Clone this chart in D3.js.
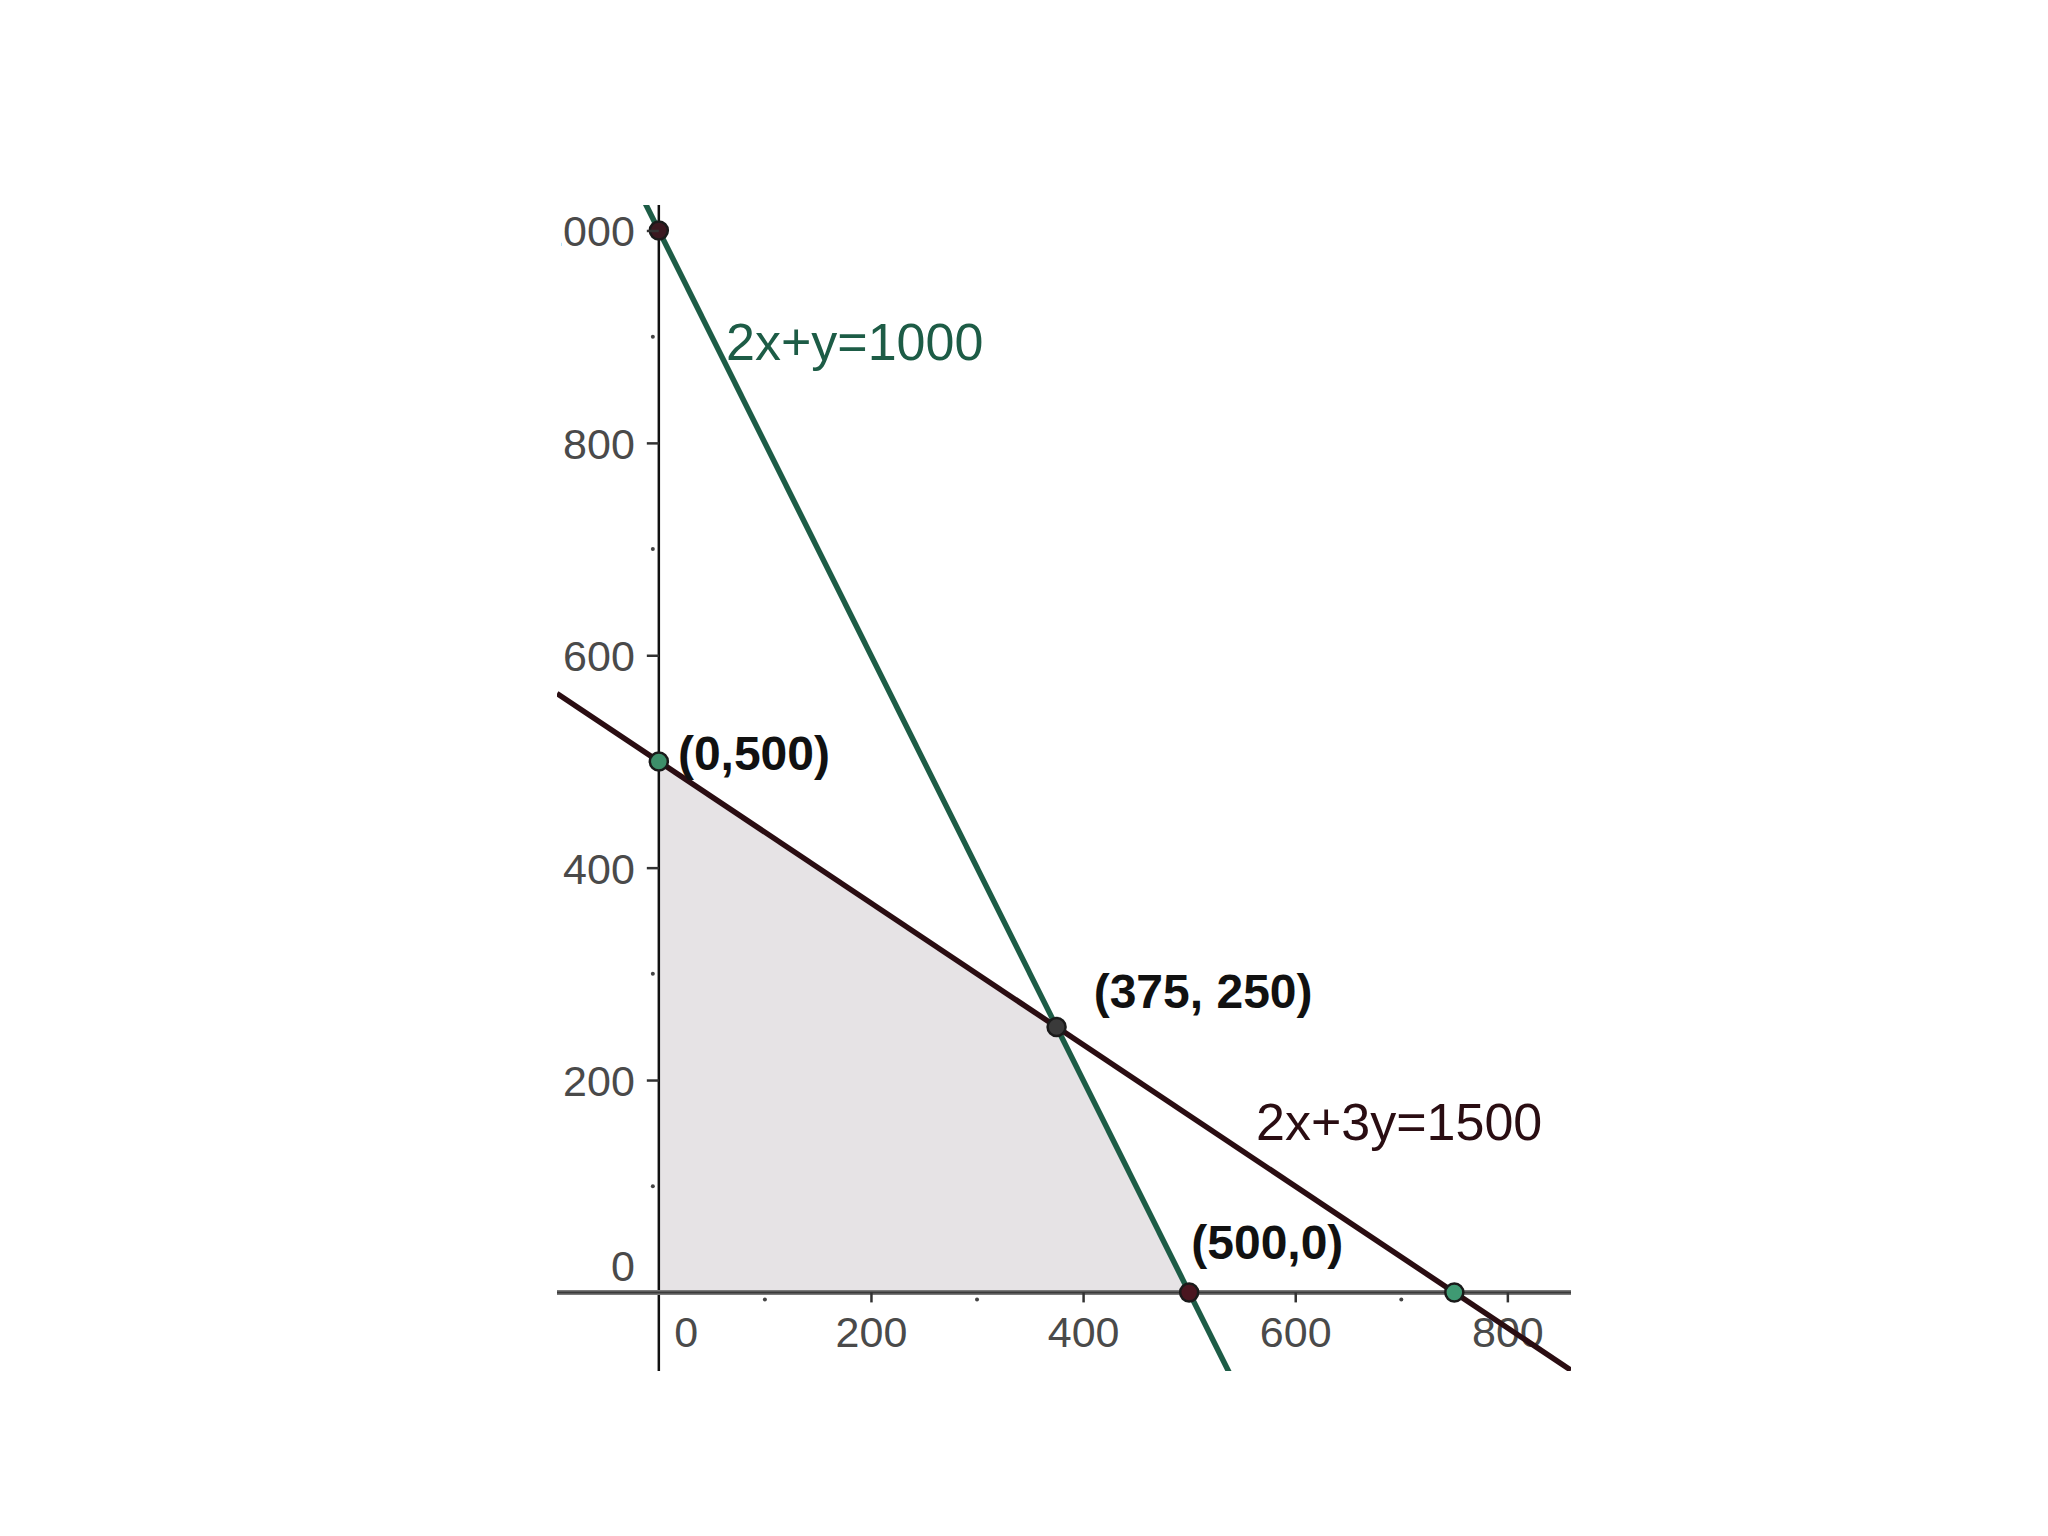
<!DOCTYPE html>
<html>
<head>
<meta charset="utf-8">
<script src="https://cdn.jsdelivr.net/npm/d3@7/dist/d3.min.js"></script>
<style>
  html, body { margin: 0; padding: 0; background: #ffffff; }
  svg { display: block; }
</style>
</head>
<body>
<svg id="chart" width="2048" height="1536"></svg>
<script>
// ---- data ----
const lineLabels = ["2x+y=1000", "2x+3y=1500"];
const lineA = [2, 2];
const lineB = [1, 3];
const lineC = [1000, 1500];
const lineColors = ["#1d5c46", "#2a0d12"];

const feasibleX = [0, 0, 375, 500];
const feasibleY = [0, 500, 250, 0];

const pointX = [0, 0, 375, 500, 750];
const pointY = [1000, 500, 250, 0, 0];
const pointFill = ["#3b1820", "#3d8f6a", "#3a3a3a", "#4a1620", "#3f9a73"];

const pointLabels = ["(0,500)", "(375, 250)", "(500,0)"];
const pointLabelX = [18, 410, 502];
const pointLabelY = [492, 268, 31];

const xTicks = [0, 200, 400, 600, 800];
const xMinor = [100, 300, 500, 700];
const yTicks = [0, 200, 400, 600, 800, 1000];
const yMinor = [100, 300, 500, 700, 900];

// ---- scales ----
const x = d3.scaleLinear().domain([-96, 860]).range([557, 1571]);
const y = d3.scaleLinear().domain([-74, 1024]).range([1371, 205]);

const svg = d3.select("#chart");
const defs = svg.append("defs");
defs.append("clipPath").attr("id", "plot")
  .append("rect")
  .attr("x", x(-96)).attr("y", y(1024))
  .attr("width", x(860) - x(-96)).attr("height", y(-74) - y(1024));
defs.append("clipPath").attr("id", "ylab")
  .append("rect")
  .attr("x", 561).attr("y", y(1024))
  .attr("width", x(860) - 561).attr("height", y(-74) - y(1024));

const g = svg.append("g").attr("clip-path", "url(#plot)");

// feasible region
g.append("path")
  .datum(feasibleX.map((v, i) => [v, feasibleY[i]]))
  .attr("d", d3.line().x(d => x(d[0])).y(d => y(d[1])).curve(d3.curveLinearClosed))
  .attr("fill", "#e6e3e5");

// y axis
const yAxis = d3.axisLeft(y).tickValues(yTicks).tickSize(12).tickPadding(12).tickFormat(d3.format("d"));
const ya = svg.append("g").attr("clip-path", "url(#ylab)")
  .append("g").attr("transform", `translate(${x(0)},0)`).call(yAxis);
ya.select(".domain").remove();
ya.selectAll(".tick line").attr("stroke", "#333").attr("stroke-width", 2.5);
ya.selectAll(".tick text")
  .attr("font-family", "Liberation Sans, Arial, sans-serif")
  .attr("font-size", 43).attr("fill", "#4a4a4a")
  .attr("dy", "0.36em");
ya.selectAll(".tick").filter(d => d === 0).select("line").remove();
ya.selectAll(".tick").filter(d => d === 0).select("text").attr("dy", "-0.28em");

g.selectAll(".yminor").data(yMinor).enter().append("circle")
  .attr("cx", x(0) - 6).attr("cy", d => y(d)).attr("r", 2).attr("fill", "#444");

g.append("line")
  .attr("x1", x(0)).attr("x2", x(0))
  .attr("y1", y(1024)).attr("y2", y(-74))
  .attr("stroke", "#111").attr("stroke-width", 2.5);

// x axis
g.append("line")
  .attr("x1", x(-96)).attr("x2", x(860))
  .attr("y1", y(0)).attr("y2", y(0))
  .attr("stroke", "#7a7a7a").attr("stroke-width", 5);
g.append("line")
  .attr("x1", x(-96)).attr("x2", x(860))
  .attr("y1", y(0)).attr("y2", y(0))
  .attr("stroke", "#3a3a3a").attr("stroke-width", 2);

const xAxis = d3.axisBottom(x).tickValues(xTicks).tickSize(10).tickPadding(14).tickFormat(d3.format("d"));
const xa = g.append("g").attr("transform", `translate(0,${y(0)})`).call(xAxis);
xa.select(".domain").remove();
xa.selectAll(".tick line").attr("stroke", "#333").attr("stroke-width", 2.5);
xa.selectAll(".tick text")
  .attr("font-family", "Liberation Sans, Arial, sans-serif")
  .attr("font-size", 43).attr("fill", "#4a4a4a");
xa.selectAll(".tick").filter(d => d === 0).select("line").remove();
xa.selectAll(".tick").filter(d => d === 0).select("text").attr("dx", 27);

g.selectAll(".xminor").data(xMinor).enter().append("circle")
  .attr("cx", d => x(d)).attr("cy", y(0) + 7).attr("r", 2).attr("fill", "#444");

// constraint lines
const xd = x.domain();
lineA.forEach((a, i) => {
  const b = lineB[i], c = lineC[i];
  const pts = xd.map(xv => [xv, (c - a * xv) / b]);
  g.append("line")
    .attr("x1", x(pts[0][0])).attr("y1", y(pts[0][1]))
    .attr("x2", x(pts[1][0])).attr("y2", y(pts[1][1]))
    .attr("stroke", lineColors[i]).attr("stroke-width", 5.5);
});

// points
g.selectAll(".pt").data(pointX.map((v, i) => ({x: v, y: pointY[i], f: pointFill[i]})))
  .enter().append("circle")
  .attr("cx", d => x(d.x)).attr("cy", d => y(d.y)).attr("r", 9)
  .attr("fill", d => d.f).attr("stroke", "#1a1a1a").attr("stroke-width", 2.5);

// line labels
svg.append("text").text(lineLabels[0])
  .attr("x", 726).attr("y", 360)
  .attr("font-family", "Liberation Sans, Arial, sans-serif")
  .attr("font-size", 52).attr("fill", "#1d5c46");
svg.append("text").text(lineLabels[1])
  .attr("x", 1256).attr("y", 1140)
  .attr("font-family", "Liberation Sans, Arial, sans-serif")
  .attr("font-size", 52).attr("fill", "#2a0d12");

// point labels
pointLabels.forEach((t, i) => {
  svg.append("text").text(t)
    .attr("x", x(pointLabelX[i])).attr("y", y(pointLabelY[i]))
    .attr("font-family", "Liberation Sans, Arial, sans-serif")
    .attr("font-size", 48).attr("font-weight", "bold")
    .attr("fill", "#111");
});
</script>
</body>
</html>
